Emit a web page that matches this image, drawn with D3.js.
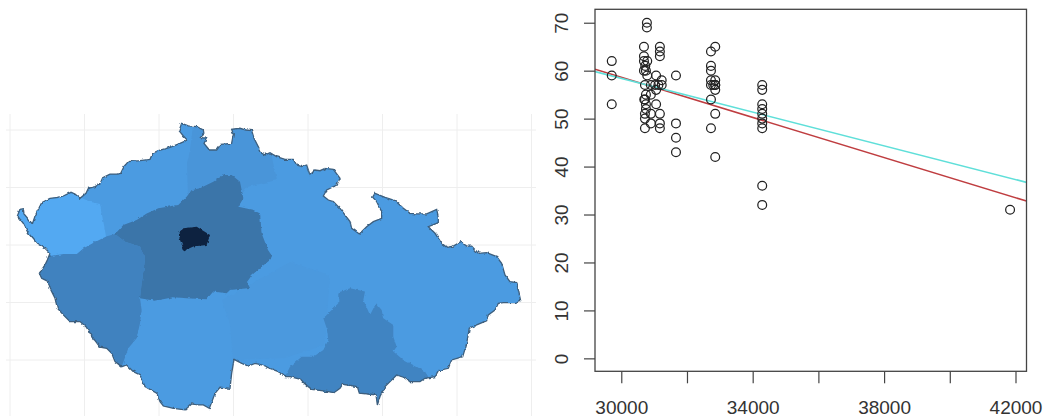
<!DOCTYPE html>
<html>
<head>
<meta charset="utf-8">
<script src="https://cdn.jsdelivr.net/npm/d3@7"></script>
<style>
	html, body { margin: 0; padding: 0; background: #fff; }
	svg { display: block; }
	text { font-family: "Liberation Sans", Arial, sans-serif; fill: #333; }
</style>
</head>
<body>
<svg id="chart" width="1046" height="417"></svg>
<script>
/* map data, all [lon, lat] */
var outline = [
	[12.099,50.252],[12.134,50.310],[12.179,50.316],[12.188,50.270],[12.300,50.183],[12.336,50.252],[12.425,50.368],[12.537,50.406],
	[12.649,50.415],[12.716,50.426],[12.819,50.458],[12.873,50.444],[12.940,50.406],[13.020,50.449],[13.052,50.493],[13.141,50.507],
	[13.208,50.530],[13.244,50.586],[13.342,50.617],[13.432,50.617],[13.486,50.623],[13.530,50.681],[13.588,50.725],[13.745,50.733],
	[13.879,50.745],[13.915,50.797],[13.991,50.820],[14.148,50.849],[14.282,50.884],[14.380,50.913],[14.327,50.948],[14.269,50.994],
	[14.304,51.058],[14.394,51.035],[14.506,51.029],[14.595,51.000],[14.604,50.965],[14.559,50.936],[14.640,50.928],[14.604,50.884],
	[14.676,50.826],[14.774,50.826],[14.828,50.875],[14.975,50.884],[14.998,50.965],[14.975,51.006],[15.087,51.015],[15.168,51.000],
	[15.244,50.994],[15.275,50.928],[15.378,50.797],[15.423,50.783],[15.490,50.803],[15.579,50.768],[15.691,50.745],[15.803,50.745],
	[15.848,50.696],[15.915,50.681],[15.982,50.696],[16.027,50.609],[16.094,50.652],[16.161,50.646],[16.228,50.667],[16.340,50.658],
	[16.430,50.580],[16.385,50.522],[16.251,50.478],[16.206,50.426],[16.273,50.391],[16.340,50.377],[16.430,50.319],[16.564,50.203],
	[16.586,50.145],[16.689,50.096],[16.787,50.159],[16.877,50.203],[16.989,50.232],[16.989,50.290],[16.922,50.377],[16.868,50.415],
	[16.899,50.449],[17.034,50.415],[17.168,50.386],[17.280,50.319],[17.369,50.275],[17.459,50.270],[17.593,50.270],[17.727,50.310],
	[17.749,50.246],[17.749,50.194],[17.615,50.159],[17.705,50.102],[17.794,50.015],[17.861,49.980],[17.951,49.991],[18.049,50.029],
	[18.130,49.991],[18.197,49.991],[18.286,49.928],[18.398,49.933],[18.532,49.899],[18.599,49.841],[18.644,49.740],[18.711,49.682],
	[18.801,49.673],[18.854,49.516],[18.778,49.499],[18.622,49.499],[18.555,49.493],[18.510,49.435],[18.420,49.392],[18.398,49.342],
	[18.264,49.305],[18.165,49.276],[18.130,49.145],[18.076,49.029],[17.928,49.000],[17.884,48.928],[17.749,48.908],[17.705,48.855],
	[17.570,48.841],[17.503,48.812],[17.369,48.812],[17.280,48.850],[17.190,48.870],[17.101,48.812],[17.034,48.769],[16.966,48.682],
	[16.931,48.609],[16.913,48.696],[16.832,48.702],[16.689,48.711],[16.662,48.769],[16.465,48.789],[16.430,48.754],[16.349,48.716],
	[16.206,48.731],[16.049,48.745],[15.960,48.792],[15.902,48.832],[15.758,48.855],[15.691,48.855],[15.602,48.899],[15.490,48.928],
	[15.378,48.957],[15.289,48.971],[15.199,48.948],[15.110,48.971],[15.007,49.006],[14.975,48.884],[14.953,48.754],[14.819,48.763],
	[14.752,48.711],[14.676,48.580],[14.595,48.609],[14.506,48.609],[14.439,48.618],[14.349,48.566],[14.192,48.580],[14.058,48.600],
	[14.014,48.638],[13.969,48.711],[13.812,48.769],[13.745,48.870],[13.656,48.899],[13.566,48.957],[13.499,48.942],[13.410,48.986],
	[13.365,49.058],[13.298,49.102],[13.208,49.111],[13.119,49.189],[13.020,49.290],[12.940,49.334],[12.806,49.334],[12.716,49.392],
	[12.636,49.450],[12.604,49.537],[12.537,49.624],[12.515,49.682],[12.425,49.711],[12.394,49.754],[12.470,49.827],[12.501,49.870],
	[12.537,49.928],[12.470,49.971],[12.358,50.015],[12.246,50.102],[12.179,50.188]
];
var vysocina = [[14.846,49.522],[15.758,49.852],[16.295,49.739],[16.228,49.130],[15.691,49.017],[14.993,49.0],[14.953,49.304]];
var liberec = [[14.389,50.417],[14.376,50.713],[14.416,50.826],[14.483,51.17],[15.423,51.17],[15.463,50.913],[15.584,50.565],[15.181,50.504],[15.060,50.391]];
var plzen = [
	[12.2,49.907],[12.537,49.907],[12.716,49.922],[12.895,49.922],[12.985,49.971],[13.119,50.020],[13.289,50.073],[13.410,50.096],
	[13.544,50.029],[13.745,49.986],[13.812,49.899],[13.812,49.870],[13.767,49.667],[13.745,49.537],[13.767,49.435],[13.745,49.319],
	[13.700,49.189],[13.588,49.102],[13.499,48.942],[13.4,48.8],[12.0,49.0]
];
var karlovyVary = [
	[12.940,50.415],[13.074,50.377],[13.208,50.357],[13.231,50.275],[13.262,50.174],[13.289,50.073],[13.119,50.020],[12.985,49.971],
	[12.895,49.922],[12.716,49.922],[12.537,49.907],[11.9,49.9],[11.9,50.5],[12.94,50.6]
];
var stredocesky = [
	[13.410,50.096],[13.521,50.174],[13.700,50.217],[13.835,50.275],[13.991,50.319],[14.259,50.348],[14.371,50.420],[14.439,50.478],
	[14.550,50.493],[14.729,50.551],[14.864,50.609],[14.975,50.609],[15.087,50.551],[15.132,50.406],[15.065,50.333],[15.266,50.304],
	[15.356,50.275],[15.378,50.101],[15.463,49.957],[15.517,49.904],[15.490,49.870],[15.356,49.800],[15.248,49.739],[15.181,49.678],
	[15.221,49.626],[14.953,49.609],[14.908,49.580],[14.729,49.595],[14.640,49.528],[14.371,49.537],[14.192,49.545],[13.946,49.516],
	[13.745,49.537],[13.767,49.667],[13.812,49.870],[13.812,49.899],[13.745,49.986],[13.544,50.029]
];
var praha = [[14.260,50.107],[14.327,50.145],[14.506,50.159],[14.685,50.087],[14.640,50.000],[14.461,49.986],[14.336,49.951],[14.282,50.044]];
var jihomoravsky = [
	[15.691,48.855],[15.758,48.942],[15.915,49.029],[16.072,49.029],[16.206,49.087],[16.273,49.174],[16.251,49.276],[16.206,49.363],
	[16.318,49.435],[16.407,49.493],[16.407,49.586],[16.564,49.624],[16.765,49.595],[16.743,49.522],[16.832,49.392],[16.913,49.493],
	[16.989,49.435],[17.011,49.363],[17.145,49.305],[17.145,49.203],[17.190,49.116],[17.145,49.073],[17.280,49.0],[17.459,48.942],
	[17.570,48.899],[17.615,48.855],[17.6,48.5],[15.7,48.5]
];
var regions = [vysocina, liberec, plzen, karlovyVary, jihomoravsky, stredocesky, praha];
var regionColors = ["#4b99de", "#4a95d9", "#4182bf", "#53a9f2", "#4084c2", "#3a74a9", "#10233f"];
var gridLons = [12, 13, 14, 15, 16, 17, 18, 19];
var gridLats = [51, 50.5, 50, 49.5, 49];

/* scatter data */
var pointX = [
	29710,29710,29710,
	30780,30780,30690,30690,30690,30790,30730,30690,30750,30790,30720,30900,31030,31130,
	30700,30720,30750,30750,30750,30720,30720,30720,30900,31060,30900,30900,31060,31060,
	31175,31175,31175,31230,31230,31175,31175,31175,
	31665,31665,31665,31665,
	32730,32860,32730,32730,32730,32730,32860,32860,32800,32860,32860,32730,32860,32730,32860,
	34290,34290,34290,34290,34290,34290,34290,34290,34290,34290,
	41835
];
var pointY = [
	62,59,53,
	70,69,65,63,62,62,61,60,60,59,57,57,57,57,
	54,54,55,53,52,51,50,48,55,53,51,49,59,56,
	65,64,63,58,57,51,49,48,
	59,49,46,43,
	64,65,61,60,58,57,58,57,57,57,56,54,51,48,42,
	57,56,53,52,51,50,49,48,36,32,
	31
];
var xTicks = [30000, 32000, 34000, 36000, 38000, 40000, 42000];
var xLabels = [30000, 34000, 38000, 42000];
var yTicks = [0, 10, 20, 30, 40, 50, 60, 70];
var redLine = [[29200, 60.3], [42335, 32.8]];
var cyanLine = [[29200, 59.8], [42335, 36.7]];

var svg = d3.select("#chart");

/* roughens the borders a little, the source is a scanned looking map */
var rough = svg.append("filter").attr("id", "rough")
	.attr("x", "-2%").attr("y", "-2%").attr("width", "104%").attr("height", "104%");
rough.append("feTurbulence")
	.attr("type", "fractalNoise").attr("baseFrequency", 0.22)
	.attr("numOctaves", 2).attr("seed", 4).attr("result", "noise");
rough.append("feDisplacementMap")
	.attr("in", "SourceGraphic").attr("in2", "noise")
	.attr("scale", 3).attr("xChannelSelector", "R").attr("yChannelSelector", "G");

/*
 * left side: the map
 */
var lonScale = d3.scaleLinear().domain([12, 19]).range([10, 531.5]);
var latScale = d3.scaleLinear().domain([51, 49]).range([130, 360]);
var mapLine = d3.line()
	.x(function(d) { return lonScale(d[0]); })
	.y(function(d) { return latScale(d[1]); })
	.curve(d3.curveLinearClosed);

var grid = svg.append("g");

grid.selectAll(".vgrid").data(gridLons).enter().append("line")
	.attr("x1", lonScale).attr("x2", lonScale)
	.attr("y1", 114).attr("y2", 416)
	.attr("stroke", "#eeeeee");
grid.selectAll(".hgrid").data(gridLats).enter().append("line")
	.attr("x1", 6).attr("x2", 536)
	.attr("y1", latScale).attr("y2", latScale)
	.attr("stroke", "#eeeeee");

svg.append("clipPath").attr("id", "country")
	.append("path").attr("d", mapLine(outline));

var map = svg.append("g").attr("filter", "url(#rough)");

map.append("path")
	.attr("d", mapLine(outline))
	.attr("fill", "#4c9be1");

map.append("g").attr("clip-path", "url(#country)")
	.selectAll("path").data(regions).enter().append("path")
		.attr("d", mapLine)
		.attr("fill", function(d, i) { return regionColors[i]; });

map.append("path")
	.attr("d", mapLine(outline))
	.attr("fill", "none")
	.attr("stroke", "#3d5f7e")
	.attr("stroke-width", 1.3);

/*
 * right side: the scatter plot
 */
var left = 595, right = 1026.5, top_ = 9.3, bottom = 371.3;
var x = d3.scaleLinear().domain([29200, 42335]).range([left, right]);
var y = d3.scaleLinear().domain([-2.7, 72.8]).range([bottom, top_]);

var xAxis = d3.axisBottom(x)
	.tickValues(xTicks)
	.tickSize(12)
	.tickSizeOuter(0)
	.tickFormat(function(d) { return xLabels.indexOf(d) >= 0 ? d : ""; });
var yAxis = d3.axisLeft(y)
	.tickValues(yTicks)
	.tickSize(11)
	.tickSizeOuter(0);

var gx = svg.append("g").attr("transform", "translate(0," + bottom + ")").call(xAxis);
var gy = svg.append("g").attr("transform", "translate(" + left + ",0)").call(yAxis);

gx.select(".domain").remove();
gy.select(".domain").remove();
gx.selectAll("line").attr("stroke", "#444").attr("stroke-width", 1.2);
gy.selectAll("line").attr("stroke", "#444").attr("stroke-width", 1.2);

gx.selectAll("text")
	.attr("y", 42.7).attr("dy", 0)
	.attr("font-size", 19).attr("fill", "#333");
gy.selectAll("text")
	.attr("x", 0).attr("dy", 0)
	.attr("text-anchor", "middle")
	.attr("transform", "translate(-27,0) rotate(-90)")
	.attr("font-size", 19).attr("fill", "#333");

svg.append("clipPath").attr("id", "plotarea")
	.append("rect")
		.attr("x", left).attr("y", top_)
		.attr("width", right - left).attr("height", bottom - top_);

var fit = d3.line()
	.x(function(d) { return x(d[0]); })
	.y(function(d) { return y(d[1]); });

var plot = svg.append("g").attr("clip-path", "url(#plotarea)");

plot.append("path").attr("d", fit(redLine))
	.attr("fill", "none").attr("stroke", "#bf3d40").attr("stroke-width", 1.6);
plot.append("path").attr("d", fit(cyanLine))
	.attr("fill", "none").attr("stroke", "#5fdfd9").attr("stroke-width", 1.6);

plot.selectAll("circle").data(pointX).enter().append("circle")
	.attr("cx", function(d) { return x(d); })
	.attr("cy", function(d, i) { return y(pointY[i]); })
	.attr("r", 4.4)
	.attr("fill", "none")
	.attr("stroke", "#222")
	.attr("stroke-width", 1.25);

svg.append("rect")
	.attr("x", left).attr("y", top_)
	.attr("width", right - left).attr("height", bottom - top_)
	.attr("fill", "none")
	.attr("stroke", "#444")
	.attr("stroke-width", 1.3);
</script>
</body>
</html>
